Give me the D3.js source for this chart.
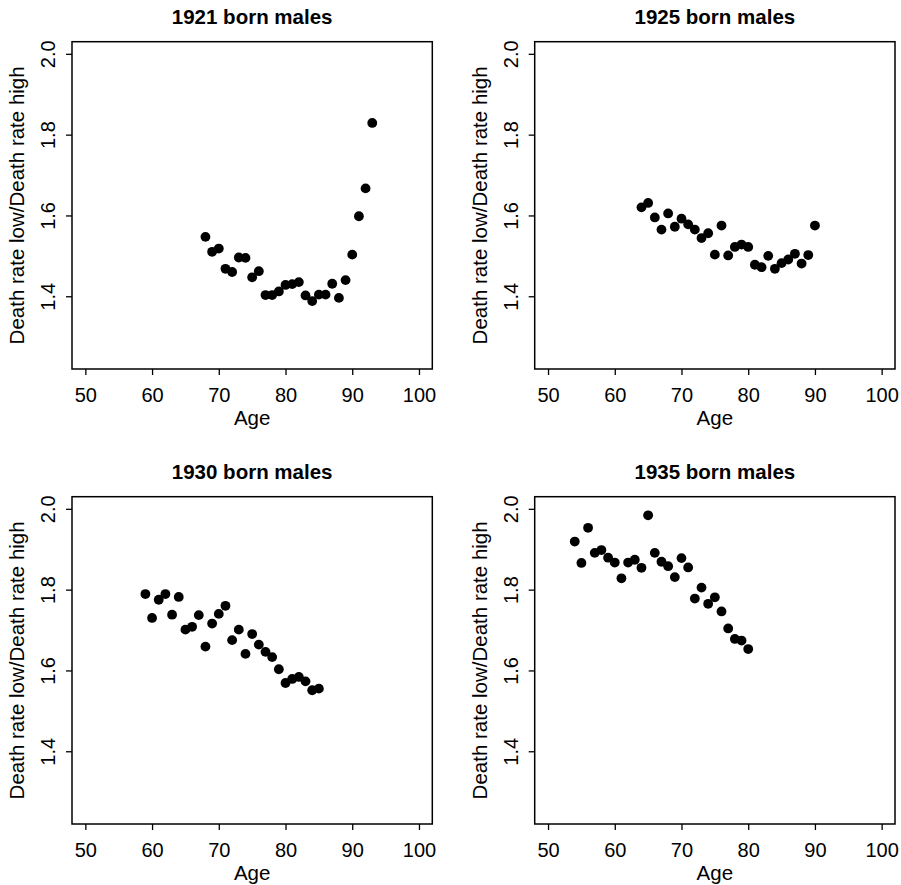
<!DOCTYPE html>
<html lang="en">
<head>
<meta charset="UTF-8">
<title>Death rate ratio by age</title>
<script src="https://d3js.org/d3.v7.min.js"></script>
<style>
  body { margin: 0; background: #fff; }
  svg { display: block; }
  .panel text { font-family: "Liberation Sans", Arial, Helvetica, sans-serif; fill: #000; }
  .axis path.domain { display: none; }
  .axis line { stroke: #000; stroke-width: 1.3; }
</style>
</head>
<body>
<div id="chart"></div>
<script>
// cohort data
var ages1921 = [68,69,70,71,72,73,74,75,76,77,78,79,80,81,82,83,84,85,86,87,88,89,90,91,92,93];
var ratio1921 = [1.547,1.510,1.518,1.468,1.460,1.496,1.495,1.447,1.462,1.403,1.403,1.412,1.428,1.430,1.435,1.402,1.388,1.404,1.404,1.431,1.396,1.440,1.503,1.598,1.667,1.829];

var ages1925 = [64,65,66,67,68,69,70,71,72,73,74,75,76,77,78,79,80,81,82,83,84,85,86,87,88,89,90];
var ratio1925 = [1.620,1.631,1.595,1.565,1.605,1.572,1.592,1.578,1.565,1.544,1.556,1.503,1.575,1.501,1.522,1.528,1.522,1.478,1.472,1.500,1.468,1.482,1.491,1.505,1.481,1.502,1.575];

var ages1930 = [59,60,61,62,63,64,65,66,67,68,69,70,71,72,73,74,75,76,77,78,79,80,81,82,83,84,85];
var ratio1930 = [1.789,1.730,1.775,1.789,1.738,1.782,1.701,1.708,1.737,1.659,1.716,1.740,1.760,1.675,1.701,1.641,1.690,1.664,1.646,1.633,1.603,1.569,1.579,1.584,1.573,1.551,1.555];

var ages1935 = [54,55,56,57,58,59,60,61,62,63,64,65,66,67,68,69,70,71,72,73,74,75,76,77,78,79,80];
var ratio1935 = [1.919,1.866,1.953,1.891,1.898,1.879,1.867,1.828,1.867,1.874,1.854,1.984,1.891,1.869,1.858,1.831,1.878,1.855,1.778,1.805,1.765,1.781,1.746,1.704,1.678,1.674,1.653];

var titles = ["1921 born males", "1925 born males", "1930 born males", "1935 born males"];
var xTicks = [50, 60, 70, 80, 90, 100];
var yTicks = [1.4, 1.6, 1.8, 2.0];

var panels = [
  {title: titles[0], ages: ages1921, ratio: ratio1921},
  {title: titles[1], ages: ages1925, ratio: ratio1925},
  {title: titles[2], ages: ages1930, ratio: ratio1930},
  {title: titles[3], ages: ages1935, ratio: ratio1935}
];

var W = 901, H = 885;
var boxW = 360.3, boxH = 327.3;
var lefts = [72, 534.7], tops = [41.7, 496.7];

var svg = d3.select("#chart").append("svg")
    .attr("width", W)
    .attr("height", H);

var x = d3.scaleLinear().domain([48, 102]).range([0, boxW]);
var y = d3.scaleLinear().domain([1.22, 2.03]).range([boxH, 0]);

panels.forEach(function(p, i) {
  var g = svg.append("g")
      .attr("class", "panel")
      .attr("transform", "translate(" + lefts[i % 2] + "," + tops[Math.floor(i / 2)] + ")");

  g.append("rect")
      .attr("width", boxW)
      .attr("height", boxH)
      .attr("fill", "none")
      .attr("stroke", "#000")
      .attr("stroke-width", 1.5);

  var xa = g.append("g")
      .attr("class", "axis")
      .attr("transform", "translate(0," + boxH + ")")
      .call(d3.axisBottom(x).tickValues(xTicks).tickSize(6).tickSizeOuter(0));
  xa.selectAll("text")
      .attr("y", 32.5)
      .attr("dy", null)
      .style("font-size", "20px");

  var ya = g.append("g")
      .attr("class", "axis")
      .call(d3.axisLeft(y).tickValues(yTicks).tickSize(6).tickSizeOuter(0).tickFormat(d3.format(".1f")));
  ya.selectAll("text")
      .attr("x", null)
      .attr("dy", null)
      .attr("text-anchor", "middle")
      .attr("transform", "translate(-17,0) rotate(-90)")
      .style("font-size", "20px");

  g.append("text")
      .attr("x", boxW / 2)
      .attr("y", -18)
      .attr("text-anchor", "middle")
      .style("font-size", "20.5px")
      .style("font-weight", "bold")
      .text(p.title);

  g.append("text")
      .attr("x", boxW / 2)
      .attr("y", boxH + 56.5)
      .attr("text-anchor", "middle")
      .style("font-size", "20.5px")
      .text("Age");

  g.append("text")
      .attr("transform", "translate(-47.7," + (boxH / 2) + ") rotate(-90)")
      .attr("text-anchor", "middle")
      .style("font-size", "20.5px")
      .text("Death rate low/Death rate high");

  g.selectAll("circle.dot")
      .data(p.ages)
      .enter().append("circle")
      .attr("class", "dot")
      .attr("cx", function(d) { return x(d); })
      .attr("cy", function(d, k) { return y(p.ratio[k]); })
      .attr("r", 4.9)
      .attr("fill", "#000");
});
</script>
</body>
</html>
